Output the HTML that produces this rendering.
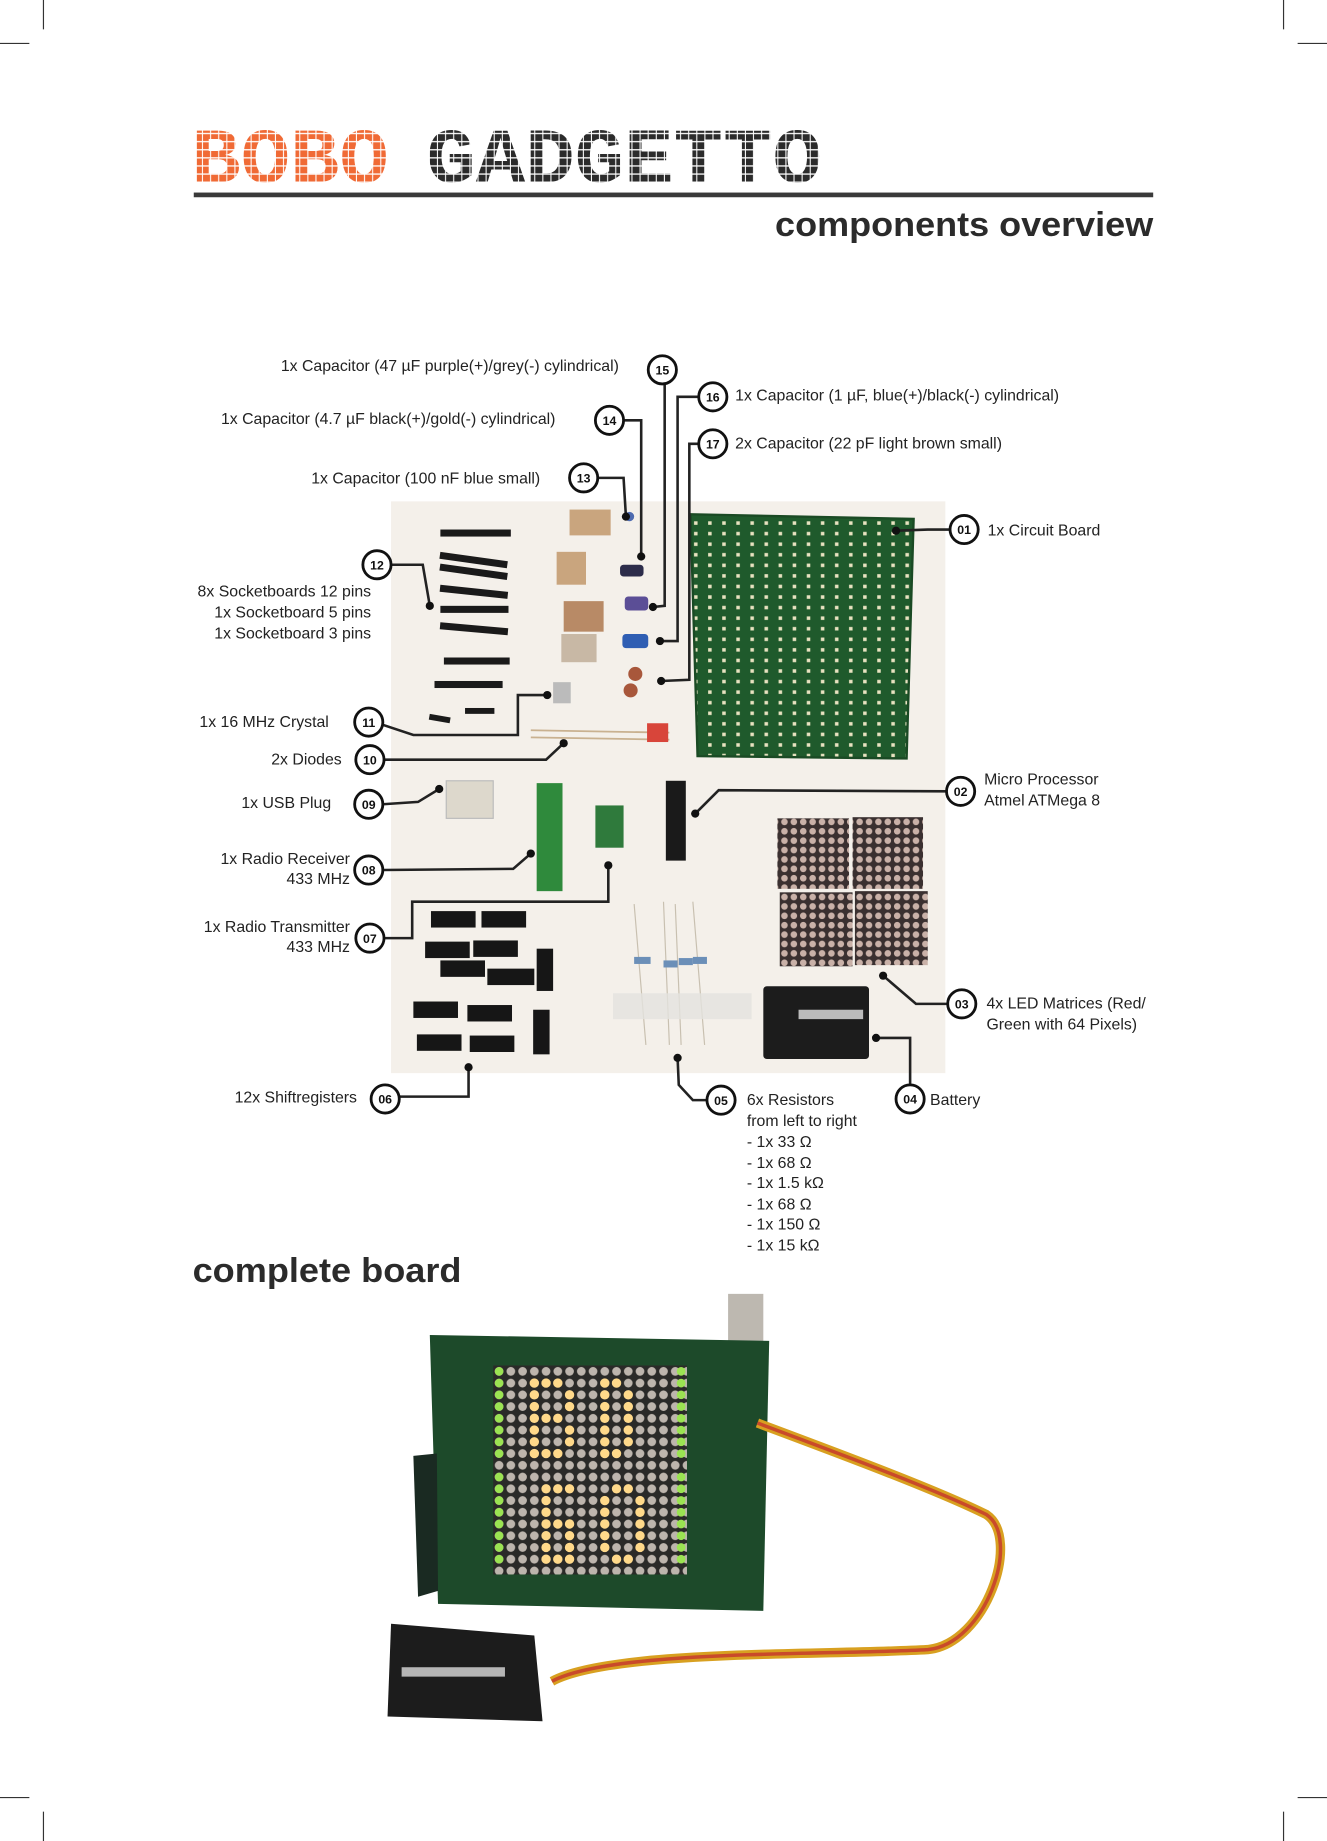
<!DOCTYPE html>
<html><head><meta charset="utf-8"><style>
html,body{margin:0;padding:0;background:#fff;}
svg{display:block;}
.l{font-family:"Liberation Sans Narrow","Liberation Sans",sans-serif;font-size:13.5px;fill:#222;}
.n{font-family:"Liberation Sans",sans-serif;font-size:10.5px;font-weight:bold;fill:#111;text-anchor:middle;}
.c{fill:#fff;stroke:#111;stroke-width:2.4;}
.w{fill:none;stroke:#222;stroke-width:2.2;}
.d{fill:#111;}
</style></head><body>
<svg width="1327" height="1841" viewBox="0 0 1130 1568" preserveAspectRatio="none" xmlns="http://www.w3.org/2000/svg">
<defs>
<pattern id="px" width="6.9" height="6.9" patternUnits="userSpaceOnUse" y="107">
<rect x="0" y="0" width="6.9" height="6.9" fill="#000"/>
<rect x="0.4" y="0.4" width="6" height="5.8" fill="#fff"/>
</pattern>
<mask id="pm"><rect x="0" y="0" width="1130" height="200" fill="url(#px)"/></mask>
<pattern id="led" width="8" height="8" patternUnits="userSpaceOnUse">
<rect width="8" height="8" fill="#3a3030"/><circle cx="4" cy="4" r="2.8" fill="#c9b1a8"/>
</pattern>
<pattern id="led2" width="10" height="10" patternUnits="userSpaceOnUse" x="420" y="1163">
<rect width="10" height="10" fill="#2a2a28"/><circle cx="5" cy="5" r="3.7" fill="#bdb5ad"/>
</pattern>
<pattern id="pcb" width="12" height="9" patternUnits="userSpaceOnUse">
<rect width="12" height="9" fill="#1f5a2c"/><rect x="3" y="3" width="3" height="3" fill="#e8e2c0"/>
</pattern>
</defs>

<!-- crop marks -->
<g stroke="#333" stroke-width="1">
<line x1="37" y1="0" x2="37" y2="25"/><line x1="0" y1="37" x2="25" y2="37"/>
<line x1="1093" y1="0" x2="1093" y2="25"/><line x1="1105" y1="37" x2="1130" y2="37"/>
<line x1="37" y1="1543" x2="37" y2="1568"/><line x1="0" y1="1531" x2="25" y2="1531"/>
<line x1="1093" y1="1543" x2="1093" y2="1568"/><line x1="1105" y1="1531" x2="1130" y2="1531"/>
</g>

<!-- title -->
<g mask="url(#pm)">
<text x="163" y="155" font-family="Liberation Mono,monospace" font-weight="bold" font-size="66" fill="#f06a35" textLength="168" lengthAdjust="spacingAndGlyphs">BOBO</text>
<text x="363" y="155" font-family="Liberation Mono,monospace" font-weight="bold" font-size="66" fill="#2b2b2b" textLength="337" lengthAdjust="spacingAndGlyphs">GADGETTO</text>
</g>
<rect x="165" y="164" width="817" height="4" fill="#3a3a3a"/>
<text x="982" y="201" text-anchor="end" font-family="Liberation Sans,sans-serif" font-weight="bold" font-size="29" fill="#2b2b2b" textLength="322" lengthAdjust="spacingAndGlyphs">components overview</text>

<!-- photo 1 -->
<rect x="333" y="427" width="472" height="487" fill="#f4f0ea"/>
<polygon points="588,438 778,442 772,646 594,644" fill="url(#pcb)"/>
<polygon points="588,438 778,442 772,646 594,644" fill="none" stroke="#1a4a24" stroke-width="2"/>
<g fill="#1a1a1a">
<rect x="375" y="451" width="60" height="6"/><rect x="375" y="470" width="58" height="6" transform="rotate(8 375 470)"/>
<rect x="375" y="480" width="58" height="6" transform="rotate(8 375 480)"/><rect x="375" y="498" width="58" height="6" transform="rotate(6 375 498)"/>
<rect x="375" y="516" width="58" height="6"/><rect x="375" y="530" width="58" height="6" transform="rotate(5 375 530)"/>
<rect x="378" y="560" width="56" height="6"/><rect x="370" y="580" width="58" height="6"/>
<rect x="366" y="608" width="18" height="5" transform="rotate(10 366 608)"/><rect x="396" y="603" width="25" height="5"/>
</g>
<rect x="485" y="434" width="35" height="22" fill="#c9a57e"/><circle cx="536" cy="440" r="4" fill="#4e6bb0"/>
<rect x="474" y="470" width="25" height="28" fill="#c9a57e"/><rect x="528" y="481" width="20" height="10" rx="3" fill="#2c2c4a"/>
<rect x="480" y="512" width="34" height="26" fill="#b88a66"/><rect x="532" y="508" width="20" height="12" rx="3" fill="#5b4e96"/>
<rect x="478" y="540" width="30" height="24" fill="#c8b8a5"/><rect x="530" y="540" width="22" height="12" rx="3" fill="#2f5eb3"/>
<circle cx="541" cy="574" r="6" fill="#a8573b"/><circle cx="537" cy="588" r="6" fill="#a8573b"/>
<rect x="471" y="581" width="15" height="18" fill="#bbb"/>
<line x1="452" y1="622" x2="570" y2="624" stroke="#c9b190" stroke-width="1.5"/>
<line x1="452" y1="628" x2="570" y2="630" stroke="#c9b190" stroke-width="1.5"/>
<rect x="551" y="616" width="18" height="16" fill="#d8453a"/>
<rect x="380" y="665" width="40" height="32" fill="#ddd8cc" stroke="#bbb"/>
<rect x="457" y="667" width="22" height="92" fill="#2f8a3c"/>
<rect x="507" y="686" width="24" height="36" fill="#2f7a3c"/>
<rect x="567" y="665" width="17" height="68" fill="#1a1a1a"/>
<rect x="662" y="697" width="61" height="60" fill="url(#led)"/><rect x="726" y="696" width="60" height="61" fill="url(#led)"/>
<rect x="664" y="760" width="62" height="63" fill="url(#led)"/><rect x="728" y="759" width="62" height="63" fill="url(#led)"/>
<rect x="650" y="840" width="90" height="62" rx="3" fill="#1c1c1c"/>
<rect x="680" y="860" width="55" height="8" fill="#bbb"/>
<g fill="#161616">
<rect x="367" y="776" width="38" height="14"/><rect x="410" y="776" width="38" height="14"/>
<rect x="362" y="802" width="38" height="14"/><rect x="403" y="801" width="38" height="14"/>
<rect x="375" y="818" width="38" height="14"/><rect x="415" y="825" width="40" height="14"/>
<rect x="457" y="808" width="14" height="36"/>
<rect x="352" y="853" width="38" height="14"/><rect x="398" y="856" width="38" height="14"/>
<rect x="355" y="881" width="38" height="14"/><rect x="400" y="882" width="38" height="14"/>
<rect x="454" y="860" width="14" height="38"/>
</g>
<g stroke="#c8c0b0" stroke-width="1"><line x1="540" y1="770" x2="550" y2="890"/><line x1="565" y1="768" x2="570" y2="890"/><line x1="575" y1="770" x2="580" y2="890"/><line x1="590" y1="768" x2="600" y2="890"/></g>
<g fill="#6b8fb8"><rect x="540" y="815" width="14" height="6"/><rect x="565" y="818" width="12" height="6"/><rect x="578" y="816" width="12" height="6"/><rect x="590" y="815" width="12" height="6"/></g>
<rect x="522" y="846" width="118" height="22" fill="#e4e2de" opacity="0.8"/>

<!-- callouts -->
<g class="w">
<polyline points="809,451 790,451 763,452"/>
<polyline points="806,674 612,673 592,693"/>
<polyline points="807,855 780,855 752,831"/>
<polyline points="775,924 775,884 746,884"/>
<polyline points="602,937 590,937 578,924 577,901"/>
<polyline points="340,934 399,934 399,909"/>
<polyline points="327,799 351,799 351,768 518,768 518,737"/>
<polyline points="326,741 437,740 452,727"/>
<polyline points="326,685 356,683 374,672"/>
<polyline points="327,647 465,647 480,633"/>
<polyline points="325,617 352,626 441,626 441,592 466,592"/>
<polyline points="333,481 360,481 366,516"/>
<polyline points="509,407 531,407 533,440"/>
<polyline points="531,358 546,358 546,474"/>
<polyline points="566,327 566,516 556,517"/>
<polyline points="595,338 577,338 577,546 562,546"/>
<polyline points="595,378 587,378 587,579 563,580"/>
</g>
<g class="d">
<circle cx="763" cy="452" r="3.5"/><circle cx="592" cy="693" r="3.5"/><circle cx="752" cy="831" r="3.5"/>
<circle cx="746" cy="884" r="3.5"/><circle cx="577" cy="901" r="3.5"/><circle cx="399" cy="909" r="3.5"/>
<circle cx="518" cy="737" r="3.5"/><circle cx="452" cy="727" r="3.5"/><circle cx="374" cy="672" r="3.5"/>
<circle cx="480" cy="633" r="3.5"/><circle cx="466" cy="592" r="3.5"/><circle cx="366" cy="516" r="3.5"/>
<circle cx="533" cy="440" r="3.5"/><circle cx="546" cy="474" r="3.5"/><circle cx="556" cy="517" r="3.5"/>
<circle cx="562" cy="546" r="3.5"/><circle cx="563" cy="580" r="3.5"/>
</g>
<g>
<circle class="c" cx="821" cy="451" r="12"/><text class="n" x="821" y="455">01</text>
<circle class="c" cx="818" cy="674" r="12"/><text class="n" x="818" y="678">02</text>
<circle class="c" cx="819" cy="855" r="12"/><text class="n" x="819" y="859">03</text>
<circle class="c" cx="775" cy="936" r="12"/><text class="n" x="775" y="940">04</text>
<circle class="c" cx="614" cy="937" r="12"/><text class="n" x="614" y="941">05</text>
<circle class="c" cx="328" cy="936" r="12"/><text class="n" x="328" y="940">06</text>
<circle class="c" cx="315" cy="799" r="12"/><text class="n" x="315" y="803">07</text>
<circle class="c" cx="314" cy="741" r="12"/><text class="n" x="314" y="745">08</text>
<circle class="c" cx="314" cy="685" r="12"/><text class="n" x="314" y="689">09</text>
<circle class="c" cx="315" cy="647" r="12"/><text class="n" x="315" y="651">10</text>
<circle class="c" cx="314" cy="615" r="12"/><text class="n" x="314" y="619">11</text>
<circle class="c" cx="321" cy="481" r="12"/><text class="n" x="321" y="485">12</text>
<circle class="c" cx="497" cy="407" r="12"/><text class="n" x="497" y="411">13</text>
<circle class="c" cx="519" cy="358" r="12"/><text class="n" x="519" y="362">14</text>
<circle class="c" cx="564" cy="315" r="12"/><text class="n" x="564" y="319">15</text>
<circle class="c" cx="607" cy="338" r="12"/><text class="n" x="607" y="342">16</text>
<circle class="c" cx="607" cy="378" r="12"/><text class="n" x="607" y="382">17</text>
</g>

<g class="l">
<text x="841" y="456">1x Circuit Board</text>
<text x="838" y="668">Micro Processor</text><text x="838" y="686">Atmel ATMega 8</text>
<text x="840" y="859">4x LED Matrices (Red/</text><text x="840" y="877">Green with 64 Pixels)</text>
<text x="792" y="941">Battery</text>
<text x="636" y="941">6x Resistors</text><text x="636" y="959">from left to right</text>
<text x="636" y="977">- 1x 33 Ω</text><text x="636" y="995">- 1x 68 Ω</text><text x="636" y="1012">- 1x 1.5 kΩ</text>
<text x="636" y="1030">- 1x 68 Ω</text><text x="636" y="1047">- 1x 150 Ω</text><text x="636" y="1065">- 1x 15 kΩ</text>
<g text-anchor="end">
<text x="304" y="939">12x Shiftregisters</text>
<text x="298" y="794">1x Radio Transmitter</text><text x="298" y="811">433 MHz</text>
<text x="298" y="736">1x Radio Receiver</text><text x="298" y="753">433 MHz</text>
<text x="282" y="688">1x USB Plug</text>
<text x="291" y="651">2x Diodes</text>
<text x="280" y="619">1x 16 MHz Crystal</text>
<text x="316" y="508">8x Socketboards 12 pins</text><text x="316" y="526">1x Socketboard 5 pins</text><text x="316" y="544">1x Socketboard 3 pins</text>
<text x="460" y="412">1x Capacitor (100 nF blue small)</text>
<text x="473" y="361">1x Capacitor (4.7 µF black(+)/gold(-) cylindrical)</text>
<text x="527" y="316">1x Capacitor (47 µF purple(+)/grey(-) cylindrical)</text>
</g>
<text x="626" y="341">1x Capacitor (1 µF, blue(+)/black(-) cylindrical)</text>
<text x="626" y="382">2x Capacitor (22 pF light brown small)</text>
</g>

<text x="164" y="1092" font-family="Liberation Sans,sans-serif" font-weight="bold" font-size="29" fill="#2b2b2b" textLength="229" lengthAdjust="spacingAndGlyphs">complete board</text>

<!-- complete board photo -->
<polygon points="620,1102 650,1102 650,1142 620,1142" fill="#bdb8b0"/>
<polygon points="366,1137 655,1142 650,1372 373,1366" fill="#1d4a2a"/>
<polygon points="352,1240 372,1238 373,1355 356,1360" fill="#1a2a22"/>
<rect x="420" y="1163" width="165" height="178" fill="url(#led2)"/>
<g fill="#9be352">
<circle cx="425" cy="1168" r="3.7"/><circle cx="425" cy="1178" r="3.7"/><circle cx="425" cy="1188" r="3.7"/><circle cx="425" cy="1198" r="3.7"/><circle cx="425" cy="1208" r="3.7"/><circle cx="425" cy="1218" r="3.7"/><circle cx="425" cy="1228" r="3.7"/><circle cx="425" cy="1238" r="3.7"/>
<circle cx="425" cy="1258" r="3.7"/><circle cx="425" cy="1268" r="3.7"/><circle cx="425" cy="1278" r="3.7"/><circle cx="425" cy="1288" r="3.7"/><circle cx="425" cy="1298" r="3.7"/><circle cx="425" cy="1308" r="3.7"/><circle cx="425" cy="1318" r="3.7"/><circle cx="425" cy="1328" r="3.7"/>
<circle cx="580" cy="1168" r="3.7"/><circle cx="580" cy="1178" r="3.7"/><circle cx="580" cy="1188" r="3.7"/><circle cx="580" cy="1198" r="3.7"/><circle cx="580" cy="1208" r="3.7"/><circle cx="580" cy="1218" r="3.7"/><circle cx="580" cy="1228" r="3.7"/><circle cx="580" cy="1238" r="3.7"/>
<circle cx="580" cy="1258" r="3.7"/><circle cx="580" cy="1268" r="3.7"/><circle cx="580" cy="1278" r="3.7"/><circle cx="580" cy="1288" r="3.7"/><circle cx="580" cy="1298" r="3.7"/><circle cx="580" cy="1308" r="3.7"/><circle cx="580" cy="1318" r="3.7"/><circle cx="580" cy="1328" r="3.7"/>
</g>
<g fill="#ffd98a">
<circle cx="455" cy="1178" r="4"/><circle cx="465" cy="1178" r="4"/><circle cx="475" cy="1178" r="4"/><circle cx="455" cy="1188" r="4"/><circle cx="485" cy="1188" r="4"/><circle cx="455" cy="1198" r="4"/><circle cx="485" cy="1198" r="4"/><circle cx="455" cy="1208" r="4"/><circle cx="465" cy="1208" r="4"/><circle cx="475" cy="1208" r="4"/><circle cx="455" cy="1218" r="4"/><circle cx="485" cy="1218" r="4"/><circle cx="455" cy="1228" r="4"/><circle cx="485" cy="1228" r="4"/><circle cx="455" cy="1238" r="4"/><circle cx="465" cy="1238" r="4"/><circle cx="475" cy="1238" r="4"/>
<circle cx="515" cy="1178" r="4"/><circle cx="525" cy="1178" r="4"/><circle cx="515" cy="1188" r="4"/><circle cx="535" cy="1188" r="4"/><circle cx="515" cy="1198" r="4"/><circle cx="535" cy="1198" r="4"/><circle cx="515" cy="1208" r="4"/><circle cx="535" cy="1208" r="4"/><circle cx="515" cy="1218" r="4"/><circle cx="535" cy="1218" r="4"/><circle cx="515" cy="1228" r="4"/><circle cx="535" cy="1228" r="4"/><circle cx="515" cy="1238" r="4"/><circle cx="525" cy="1238" r="4"/>
<circle cx="465" cy="1268" r="4"/><circle cx="475" cy="1268" r="4"/><circle cx="485" cy="1268" r="4"/><circle cx="465" cy="1278" r="4"/><circle cx="465" cy="1288" r="4"/><circle cx="465" cy="1298" r="4"/><circle cx="475" cy="1298" r="4"/><circle cx="485" cy="1298" r="4"/><circle cx="465" cy="1308" r="4"/><circle cx="485" cy="1308" r="4"/><circle cx="465" cy="1318" r="4"/><circle cx="485" cy="1318" r="4"/><circle cx="465" cy="1328" r="4"/><circle cx="475" cy="1328" r="4"/><circle cx="485" cy="1328" r="4"/>
<circle cx="525" cy="1268" r="4"/><circle cx="535" cy="1268" r="4"/><circle cx="515" cy="1278" r="4"/><circle cx="545" cy="1278" r="4"/><circle cx="515" cy="1288" r="4"/><circle cx="545" cy="1288" r="4"/><circle cx="515" cy="1298" r="4"/><circle cx="545" cy="1298" r="4"/><circle cx="515" cy="1308" r="4"/><circle cx="545" cy="1308" r="4"/><circle cx="515" cy="1318" r="4"/><circle cx="545" cy="1318" r="4"/><circle cx="525" cy="1328" r="4"/><circle cx="535" cy="1328" r="4"/>
</g>
<path d="M645,1212 C720,1240 800,1270 840,1290 C870,1310 840,1400 790,1405 C700,1410 520,1405 470,1432" fill="none" stroke="#d8a020" stroke-width="8"/>
<path d="M645,1212 C720,1240 800,1270 840,1290 C870,1310 840,1400 790,1405 C700,1410 520,1405 470,1432" fill="none" stroke="#c94a2a" stroke-width="3"/>
<polygon points="333,1383 455,1393 462,1466 330,1462" fill="#1c1c1c"/>
<rect x="342" y="1420" width="88" height="8" fill="#b5b5b5"/>
</svg>
</body></html>
